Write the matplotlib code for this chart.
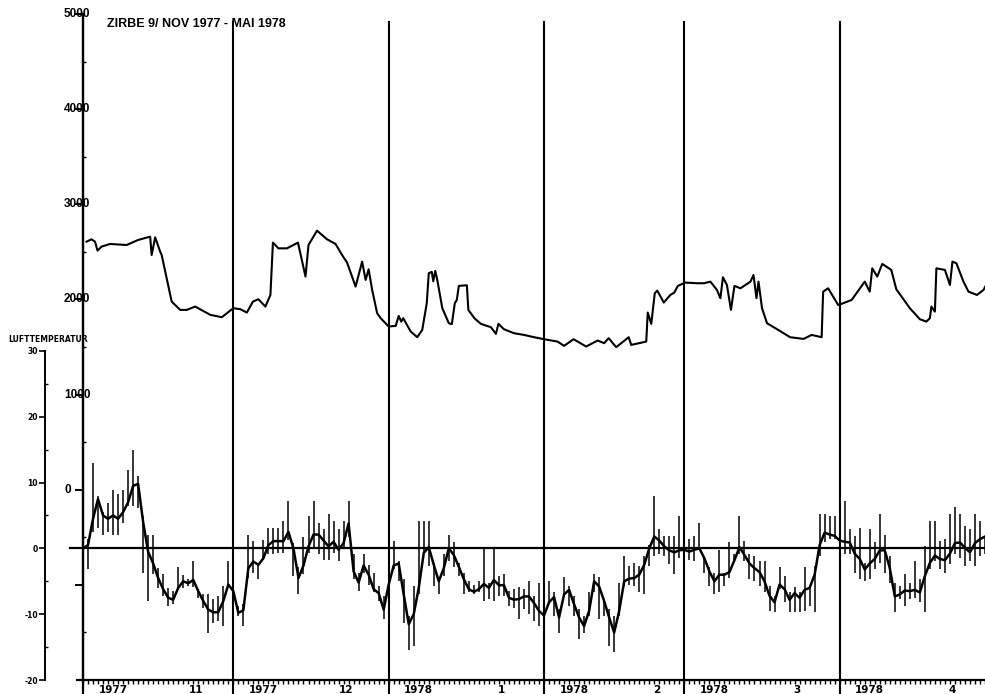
import numpy as np
import matplotlib
matplotlib.use("Agg")
import matplotlib.pyplot as plt

# upper curve, Zirbe 9 -- day 0 = 1 Nov 1977
level_day = [0.7, 1.7, 2.4, 2.9, 3.7, 5.4, 8.7, 11.0, 13.4, 13.7, 14.4, 15.4, 15.7,
             17.7, 19.4, 20.7, 22.4, 25.4, 27.7, 30.0, 31.4, 32.7, 33.9, 35.0, 36.4,
             37.4, 37.9, 39.0, 40.7, 42.9, 44.4, 45.0, 46.7, 48.7, 50.4, 51.7, 52.7,
             54.4, 55.7, 56.4, 57.0, 57.7, 58.7, 59.4, 61.0, 62.4, 63.0, 63.5, 63.9,
             65.4, 66.7, 67.7, 68.6, 69.0, 69.6, 69.9, 70.3, 70.7, 71.7, 73.0, 73.6,
             74.2, 74.6, 75.0, 76.6, 76.9, 78.1, 79.4, 81.4, 82.4, 82.9, 84.0, 86.0,
             88.0, 90.0, 92.0, 94.7, 96.0, 97.9, 100.4, 102.7, 104.0, 104.9, 106.4,
             108.9, 109.4, 112.4, 112.7, 113.4, 114.1, 114.6, 115.9, 117.2, 118.0,
             118.7, 120.2, 122.7, 123.9, 125.2, 126.5, 127.2, 127.7, 128.5, 129.3,
             130.0, 131.2, 133.2, 133.8, 134.4, 134.8, 135.5, 136.5, 138.5, 141.1,
             143.8, 145.4, 147.4, 147.7, 148.7, 149.7, 150.7, 151.7, 153.4, 156.0,
             157.0, 157.5, 158.5, 159.5, 161.3, 162.3, 165.0, 167.0, 168.3, 169.0,
             169.3, 170.0, 170.3, 172.0, 173.0, 173.5, 174.3, 175.7, 176.7, 178.4,
             179.7, 180.2]
level_val = [2607, 2632, 2607, 2513, 2555, 2583, 2572, 2625, 2660, 2467, 2653, 2502, 2467,
             1977, 1890, 1890, 1925, 1838, 1813, 1908, 1897, 1862, 1977, 2002, 1925,
             2047, 2597, 2537, 2537, 2597, 2240, 2572, 2723, 2632, 2583, 2467, 2387,
             2135, 2397, 2205, 2317, 2100, 1855, 1803, 1715, 1722, 1827, 1767, 1803,
             1662, 1603, 1680, 1960, 2275, 2290, 2190, 2300, 2205, 1908, 1750, 1740,
             1960, 1995, 2142, 2149, 1890, 1803, 1743, 1708, 1638, 1743, 1687, 1645,
             1627, 1603, 1582, 1557, 1512, 1582, 1505, 1568, 1540, 1593, 1498,
             1603, 1522, 1557, 1862, 1743, 2065, 2093, 1967, 2047, 2072,
             2142, 2177, 2170, 2170, 2187, 2100, 2013, 2233, 2152, 1890,
             2142, 2117, 2187, 2257, 2013, 2187, 1908, 1750, 1687, 1603,
             1585, 1627, 1603, 2082, 2117, 2030, 1942, 1960, 1995, 2187,
             2082, 2327, 2240, 2373, 2310, 2107, 1908, 1792, 1767, 1803,
             1925, 1872, 2327, 2310, 2152, 2397, 2380, 2187, 2082, 2047,
             2100, 2150]

# daily air temperature (mean, max, min), day 0 = 1 Nov 1977
temp_mean = [0.0, 0.5, 4.5, 7.5, 5.0, 4.5, 5.0, 4.5, 5.5, 7.0,
             9.5, 9.8, 4.0, -0.5, -2.3, -4.5, -6.2, -7.5, -7.8, -6.0,
             -5.0, -5.3, -4.8, -6.5, -8.0, -9.3, -9.7, -9.7, -8.0, -5.5,
             -6.5, -9.8, -9.4, -3.0, -2.0, -2.5, -1.5, 0.5, 1.1, 1.1,
             1.1, 2.5, 0.0, -4.5, -2.6, 0.3, 2.1, 2.1, 1.2, 0.3,
             1.0, -0.2, 0.8, 3.8, -3.5, -5.2, -2.6, -4.0, -6.2, -6.8,
             -9.3, -5.5, -2.6, -2.3, -7.0, -11.5, -10.0, -6.0, -0.7, 0.2,
             -2.5, -5.0, -3.0, 0.0, -1.0, -2.8, -4.7, -6.2, -6.6, -6.2,
             -5.4, -6.0, -4.8, -5.6, -5.6, -7.5, -7.8, -7.7, -7.3, -7.3,
             -8.3, -9.5, -10.2, -8.2, -7.4, -10.5, -7.0, -6.3, -8.5, -10.5,
             -11.8, -9.5, -5.0, -5.8, -8.0, -10.5, -12.8, -9.5, -5.0, -4.6,
             -4.5, -4.0, -2.5, 0.0, 1.8, 1.2, 0.3, -0.3, -0.6, -0.3,
             -0.2, -0.5, -0.2, 0.0, -1.5, -3.5, -5.0, -4.0, -4.0, -3.6,
             -1.8, 0.2, -1.0, -2.3, -3.0, -3.6, -5.0, -7.2, -8.2, -5.5,
             -6.2, -7.8, -6.8, -7.5, -6.3, -6.0, -4.0, 0.5, 2.4, 2.1,
             1.9, 1.2, 1.0, 0.9, -0.8, -1.6, -3.2, -2.3, -1.6, -0.3,
             -0.3, -3.0, -7.3, -7.0, -6.4, -6.5, -6.3, -6.7, -4.2, -2.2,
             -1.1, -1.6, -1.8, -0.8, 0.8, 0.9, 0.1, -0.6, 0.8, 1.4,
             1.8]
temp_max = [3.1, 1.5, 13.0, 7.9, 5.5, 6.9, 8.9, 8.2, 8.9, 11.9,
            15.0, 11.0, 4.9, 2.1, 2.1, -3.0, -3.9, -6.0, -6.5, -2.9,
            -4.0, -4.7, -1.9, -6.2, -7.0, -6.9, -7.7, -7.2, -5.7, -1.9,
            -4.7, -8.7, -8.5, 2.1, 1.1, -2.4, 1.3, 3.1, 3.1, 3.1,
            4.1, 7.2, 0.8, -2.9, 1.8, 4.9, 7.2, 3.9, 2.9, 5.2,
            4.1, 2.9, 4.1, 7.2, -0.9, -3.7, -0.9, -2.5, -3.7, -5.7,
            -7.2, -3.7, 1.1, -1.9, -4.7, -10.3, -5.7, 4.1, 4.1, 4.1,
            -2.2, -4.7, -0.9, 2.1, 0.9, -2.2, -3.7, -4.9, -5.5, -4.9,
            0.0, -5.2, 0.0, -4.2, -3.9, -6.5, -6.2, -5.9, -6.2, -4.9,
            -7.2, -5.2, -5.9, -4.9, -6.7, -9.2, -4.4, -5.7, -7.2, -9.2,
            -10.3, -6.7, -3.9, -4.4, -7.7, -9.2, -10.3, -5.2, -1.2, -2.7,
            -2.2, -2.7, -1.2, 0.5, 7.9, 2.9, 1.9, 1.9, 1.9, 4.9,
            1.9, 1.4, 1.9, 3.9, -1.4, -2.9, -3.7, -0.3, -3.7, 0.9,
            -0.8, 4.9, 1.1, -0.9, -1.2, -1.9, -1.9, -5.7, -7.2, -2.9,
            -4.2, -6.7, -5.9, -6.7, -2.9, -5.7, -2.7, 5.2, 5.2, 4.9,
            4.9, 5.2, 7.2, 2.9, 1.9, 3.1, -2.2, 2.9, 0.9, 5.2,
            2.1, -1.2, -5.2, -5.7, -3.9, -5.2, -1.9, -4.7, 0.3, 4.1,
            4.1, 1.1, 1.4, 5.2, 6.3, 5.2, 3.4, 2.9, 5.2, 4.1,
            1.9]
temp_min = [-2.9, -3.2, 2.5, 3.1, 2.1, 2.5, 2.1, 2.1, 3.9, 6.4,
            6.5, 6.2, -3.7, -8.0, -3.9, -6.0, -7.2, -8.7, -8.5, -6.2,
            -6.0, -5.7, -5.9, -7.5, -9.0, -12.8, -11.3, -11.0, -11.8, -5.7,
            -8.7, -10.3, -11.8, -4.5, -3.7, -4.7, -1.7, -0.9, -0.9, -0.7,
            -0.7, 1.3, -4.2, -6.9, -3.9, -0.7, 0.0, -0.9, -1.7, -1.7,
            -0.7, -1.9, 0.0, 1.8, -4.7, -6.5, -3.7, -5.5, -6.7, -8.0,
            -10.8, -8.2, -3.2, -4.9, -11.3, -15.5, -14.8, -7.0, -0.9, -2.7,
            -5.7, -7.0, -4.2, -1.9, -2.9, -4.2, -7.0, -6.7, -7.0, -6.7,
            -8.0, -7.7, -8.0, -7.2, -7.2, -8.7, -9.0, -10.8, -9.2, -10.0,
            -11.0, -11.8, -11.8, -8.5, -10.3, -12.8, -7.2, -8.7, -10.3, -13.8,
            -12.8, -10.3, -6.7, -10.8, -10.3, -14.8, -15.8, -10.3, -5.7, -5.5,
            -5.7, -6.7, -7.0, -2.7, -1.2, -0.9, -1.2, -2.4, -3.9, -1.4,
            -2.2, -1.7, -1.9, -0.3, -3.7, -5.7, -7.0, -6.7, -5.7, -4.5,
            -1.9, -0.8, -1.9, -4.7, -4.9, -5.7, -6.7, -9.5, -9.7, -6.2,
            -8.2, -9.7, -9.7, -9.7, -9.5, -8.7, -9.7, -1.2, 0.9, 1.4,
            1.4, -0.3, -0.8, -0.8, -3.7, -4.7, -4.9, -4.7, -3.2, -2.2,
            -3.7, -5.2, -9.7, -7.7, -8.7, -7.7, -7.5, -8.2, -9.7, -3.2,
            -1.9, -3.2, -3.7, -2.4, -0.8, -1.4, -2.7, -1.9, -2.7, -1.2,
            -0.8]
days = np.arange(len(temp_mean))

month_start = [0, 30, 61, 92, 120, 151]
month_year = ['1977', '1977', '1978', '1978', '1978', '1978']
month_num = ['11', '12', '1', '2', '3', '4']

W, H = 985, 694
fig = plt.figure(figsize=(W / 100, H / 100), dpi=100)
fig.patch.set_facecolor('white')

ax = fig.add_axes([83 / W, 14 / H, 902 / W, 666 / H])
ax.set_xlim(0, 180)
ax.set_ylim(-2000, 5000)
ax.patch.set_visible(False)
for s in ['top', 'right']:
    ax.spines[s].set_visible(False)
ax.spines['left'].set_linewidth(1.6)
ax.spines['bottom'].set_linewidth(1.6)

# upper scale
ax.set_yticks(np.arange(-1000, 5001, 1000))
ax.set_yticks(np.arange(-1500, 5000, 500), minor=True)
ax.set_yticklabels([])
ax.tick_params(axis='y', which='major', direction='out', length=6, width=1.4)
ax.tick_params(axis='y', which='minor', direction='in', length=2, width=1)
ylab_font = dict(family='Liberation Sans', weight='bold', size=8.5)
for v in range(0, 5001, 1000):
    ax.text(-0.021, v, str(v), transform=ax.get_yaxis_transform(),
            ha='left', va='center', **ylab_font)

# day ticks along the time axis
ax.set_xticks([])
ax.set_xticks(np.arange(0, 181), minor=True)
ax.tick_params(axis='x', which='minor', direction='out', length=3, width=1)
ax.plot([-1.2, 0], [-2000, -2000], color='black', lw=1.6, clip_on=False)

# month boundaries
ax.axvline(0, ymin=-0.021, ymax=1.0, color='black', lw=1.6, clip_on=False)
for m in month_start[1:]:
    ax.axvline(m, ymin=-0.021, ymax=0.988, color='black', lw=1.5, clip_on=False)

xlab_font = dict(family='DejaVu Sans', weight='bold', size=7.5)
for m, yr, mn in zip(month_start, month_year, month_num):
    ax.text(m + 6, -0.0075, yr, transform=ax.get_xaxis_transform(),
            ha='center', va='top', **xlab_font)
    ax.text(m + 22.5, -0.0075, mn, transform=ax.get_xaxis_transform(),
            ha='center', va='top', **xlab_font)

ax.plot(level_day, level_val, color='black', lw=1.5)

# air temperature on its own scale
ax2 = fig.add_axes([83 / W, 14 / H, 902 / W, 666 / H], sharex=ax)
ax2.patch.set_visible(False)
ax2.set_ylim(-20, 81.2)
for s in ['top', 'right', 'bottom']:
    ax2.spines[s].set_visible(False)
ax2.spines['left'].set_position(('axes', -0.0421))
ax2.spines['left'].set_bounds(-20, 30)
ax2.spines['left'].set_linewidth(1.4)
ax2.xaxis.set_visible(False)
ax2.set_yticks(np.arange(-20, 31, 10))
ax2.set_yticks(np.arange(-15, 30, 5), minor=True)
ax2.set_yticklabels([str(t) for t in range(-20, 31, 10)])
ax2.tick_params(axis='y', which='major', direction='out', length=4, width=1.2,
                labelsize=5.5, pad=1)
ax2.tick_params(axis='y', which='minor', direction='in', length=2, width=1)
for lbl in ax2.get_yticklabels():
    lbl.set_fontweight('bold')

ax2.plot([-2.6, 180], [0, 0], color='black', lw=1.6, clip_on=False)
ax2.vlines(days, temp_min, temp_max, color='black', lw=1.1)
ax2.plot(days, temp_mean, color='black', lw=1.8)

fig.text(8 / W, 1 - 339 / H, 'LUFTTEMPERATUR', ha='left', va='center',
         family='DejaVu Sans', weight='bold', size=5.5)
fig.text(107 / W, 1 - 24 / H, 'ZIRBE 9/ NOV 1977 - MAI 1978', ha='left', va='center',
         family='Liberation Sans', weight='bold', size=9)

fig.savefig('out.png', dpi=100)
